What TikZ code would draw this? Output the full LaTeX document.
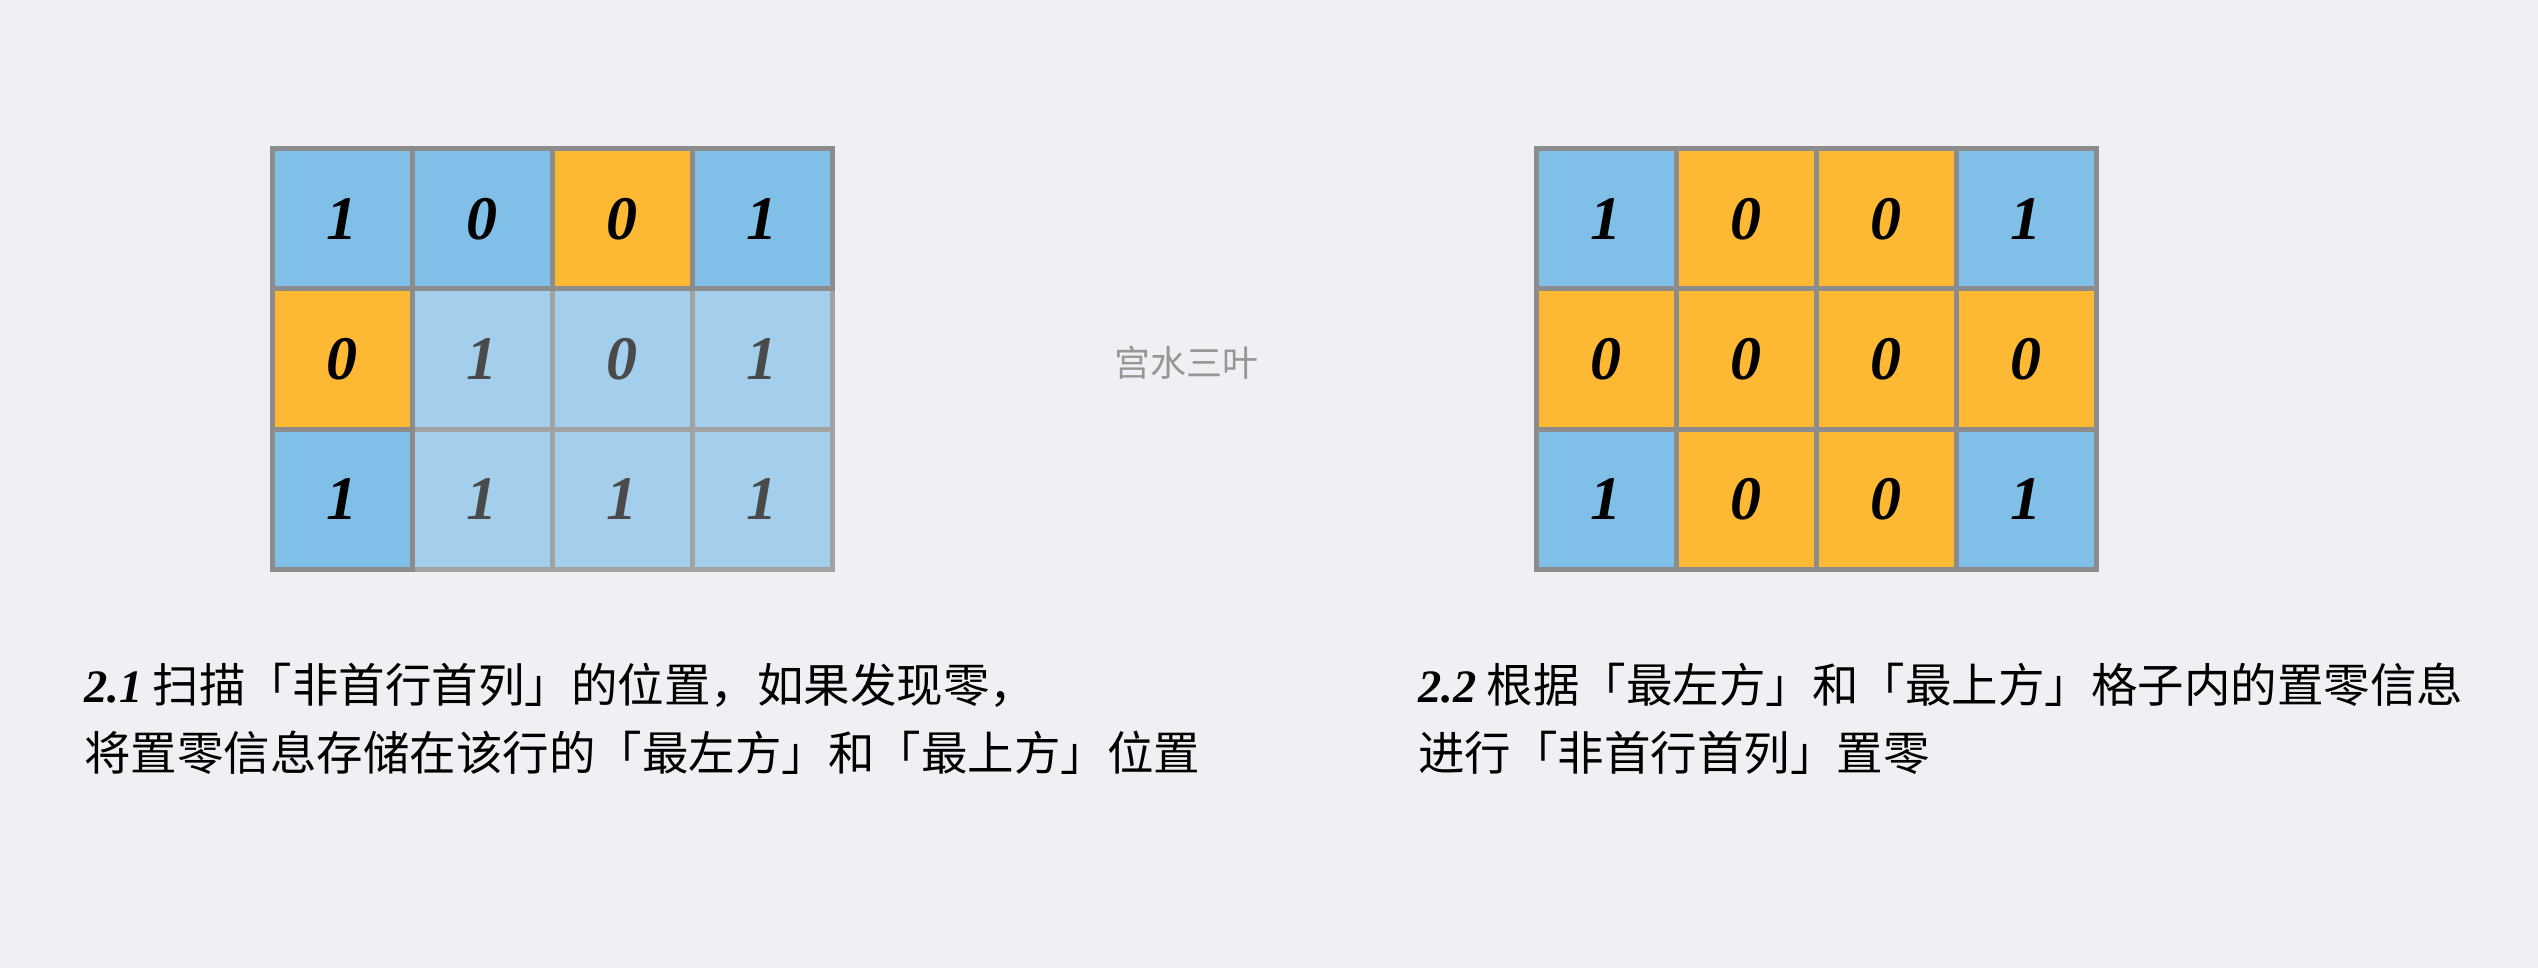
\documentclass[tikz,border=0pt]{standalone}
\usepackage{fontspec}
\setmainfont{Liberation Serif}
\newfontfamily\cjk{Noto Sans CJK SC}
\definecolor{bg}{RGB}{240,239,244}
\definecolor{cblue}{RGB}{127,191,232}
\definecolor{corange}{RGB}{253,185,51}
\definecolor{clight}{RGB}{163,207,236}
\definecolor{cline}{RGB}{140,140,140}
\definecolor{clightline}{RGB}{162,162,162}
\definecolor{cgraytext}{RGB}{74,74,74}
\definecolor{wm}{RGB}{150,150,150}
\begin{document}
\begin{tikzpicture}[x=1pt,y=-1pt,
  cell/.style={draw=cline, line width=5pt, minimum size=140pt, inner sep=0pt,
    font=\fontsize{62}{62}\selectfont\bfseries\itshape, text=black},
  bluecell/.style={cell, fill=cblue},
  orangecell/.style={cell, fill=corange},
  lightcell/.style={cell, fill=clight, draw=clightline, text=cgraytext},
  capline/.style={anchor=base west, inner sep=0pt, font=\fontsize{46.5}{46.5}\selectfont\cjk},
  watermark/.style={inner sep=0pt, text=wm, font=\fontsize{36}{36}\selectfont\cjk}]
\fill[bg] (0,0) rectangle (2538,968);
\useasboundingbox (0,0) rectangle (2538,968);

% ---- left grid: light cells first ----
\node[lightcell] (L11) at (482,359) {1};
\node[lightcell] (L12) at (622,359) {0};
\node[lightcell] (L13) at (762,359) {1};
\node[lightcell] (L21) at (482,499) {1};
\node[lightcell] (L22) at (622,499) {1};
\node[lightcell] (L23) at (762,499) {1};
\node[bluecell]   (L00) at (342,219) {1};
\node[bluecell]   (L01) at (482,219) {0};
\node[orangecell] (L02) at (622,219) {0};
\node[bluecell]   (L03) at (762,219) {1};
\node[orangecell] (L10) at (342,359) {0};
\node[bluecell]   (L20) at (342,499) {1};

% ---- right grid ----
\node[bluecell]   (R00) at (1606,219) {1};
\node[orangecell] (R01) at (1746,219) {0};
\node[orangecell] (R02) at (1886,219) {0};
\node[bluecell]   (R03) at (2026,219) {1};
\node[orangecell] (R10) at (1606,359) {0};
\node[orangecell] (R11) at (1746,359) {0};
\node[orangecell] (R12) at (1886,359) {0};
\node[orangecell] (R13) at (2026,359) {0};
\node[bluecell]   (R20) at (1606,499) {1};
\node[orangecell] (R21) at (1746,499) {0};
\node[orangecell] (R22) at (1886,499) {0};
\node[bluecell]   (R23) at (2026,499) {1};

% ---- watermark ----
\node[watermark] (wm) at (1186,363) {宫水三叶};

% ---- captions ----
\node[capline] (capAa) at (84,702) {{\rmfamily\bfseries\itshape 2.1} 扫描「非首行首列」的位置，如果发现零，};
\node[capline] (capAb) at (84,770) {将置零信息存储在该行的「最左方」和「最上方」位置};
\node[capline] (capBa) at (1418,702) {{\rmfamily\bfseries\itshape 2.2} 根据「最左方」和「最上方」格子内的置零信息};
\node[capline] (capBb) at (1418,770) {进行「非首行首列」置零};
\end{tikzpicture}
\end{document}
